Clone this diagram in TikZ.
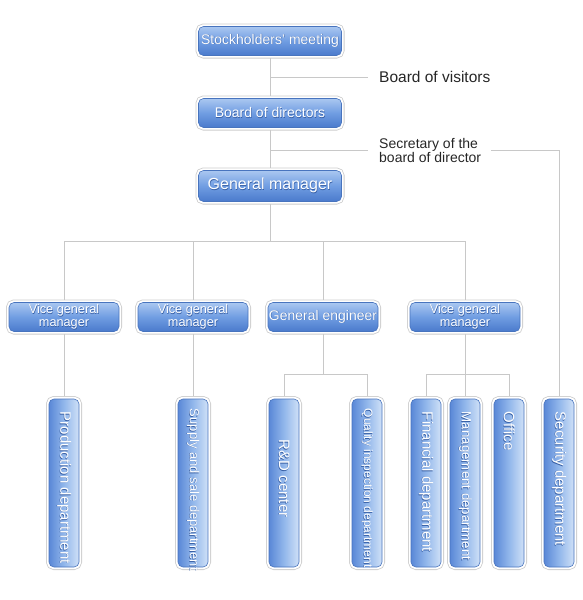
\documentclass[tikz,border=0pt]{standalone}
\usepackage{fontspec}
\setmainfont{Liberation Sans}
\usetikzlibrary{backgrounds}
\definecolor{hTop}{RGB}{170,199,240}
\definecolor{hMid}{RGB}{112,157,226}
\definecolor{hBot}{RGB}{74,122,204}
\definecolor{vLeft}{RGB}{90,136,215}
\definecolor{vMid}{RGB}{146,183,235}
\definecolor{vRight}{RGB}{208,225,247}
\definecolor{bOut}{RGB}{72,116,190}
\definecolor{shadowC}{RGB}{55,95,165}
\definecolor{lineGray}{RGB}{200,200,200}
\newcommand\shd[1]{\leavevmode\rlap{\kern0.45pt\raisebox{-0.5pt}{\textcolor{shadowC}{#1}}}#1}
\begin{document}
\begin{tikzpicture}[x=1pt,y=-1pt,
  conn/.style={draw=lineGray, line width=0.9pt},
  boxbase/.style={rounded corners=5pt, draw=bOut, line width=0.6pt,
    preaction={draw=black!20, line width=6pt},
    preaction={draw=white, line width=4.4pt},
    text=white, inner sep=0pt, align=center},
  hbox/.style={boxbase, top color=hTop, bottom color=hBot, middle color=hMid,
    minimum width=143pt, minimum height=29pt},
  mbox/.style={boxbase, top color=hTop, bottom color=hBot, middle color=hMid,
    minimum width=110pt, minimum height=29pt},
  vbox/.style={boxbase, left color=vLeft, right color=vRight, middle color=vMid,
    minimum width=30pt, minimum height=168pt},
  vtext/.style={rotate=-90, anchor=west, inner sep=0pt, text=white,
    font=\fontsize{15}{15}\selectfont},
  plain/.style={anchor=west, inner sep=0pt, text=black!85},
]
\useasboundingbox (0,0) rectangle (582,600);

% top chain
\node[hbox, font=\fontsize{14}{16}\selectfont] (sm) at (270,41) {\shd{Stockholders' meeting}};
\node[hbox, font=\fontsize{14}{16}\selectfont] (bd) at (270,113) {\shd{Board of directors}};
\node[hbox, font=\fontsize{16}{18}\selectfont, minimum height=31pt] (gm) at (270,186) {\shd{General manager}};

\node[plain, font=\fontsize{15.5}{18}\selectfont] (bov) at (379,77) {Board of visitors};
\node[plain, align=left, font=\fontsize{14}{14}\selectfont] (secb) at (379,150) {Secretary of the\\board of director};

% second row
\node[mbox, font=\fontsize{12.7}{13}\selectfont] (vgm1) at (64,317) {\shd{Vice general}\\\shd{manager}};
\node[mbox, font=\fontsize{12.7}{13}\selectfont] (vgm2) at (193,317) {\shd{Vice general}\\\shd{manager}};
\node[mbox, font=\fontsize{14}{16}\selectfont] (ge) at (323,317) {\shd{General engineer}};
\node[mbox, font=\fontsize{12.7}{13}\selectfont] (vgm4) at (465,317) {\shd{Vice general}\\\shd{manager}};

% departments
\node[vbox] (prod) at (64,483) {};
\node[vbox] (sup) at (193,483) {};
\node[vbox] (rd) at (284,483) {};
\node[vbox] (qual) at (367,483) {};
\node[vbox] (fin) at (426,483) {};
\node[vbox] (mgmt) at (465,483) {};
\node[vbox] (off) at (509,483) {};
\node[vbox] (sec) at (559,483) {};

\node[vtext] (prodT) at ([yshift=-13pt]prod.north) {\shd{Production department}};
\node[vtext, font=\fontsize{13}{13}\selectfont] (supT) at ([yshift=-10pt]sup.north) {\shd{Supply and sale department}};
\node[vtext] (rdT) at ([yshift=-41pt]rd.north) {\shd{R\&D center}};
\node[vtext, font=\fontsize{12}{12}\selectfont] (qualT) at ([yshift=-10pt]qual.north) {\shd{Quality inspection department}};
\node[vtext] (finT) at ([yshift=-13pt]fin.north) {\shd{Financial department}};
\node[vtext, font=\fontsize{13.3}{13.3}\selectfont] (mgmtT) at ([yshift=-13pt]mgmt.north) {\shd{Management department}};
\node[vtext] (offT) at ([yshift=-13pt]off.north) {\shd{Office}};
\node[vtext] (secT) at ([yshift=-13pt]sec.north) {\shd{Security department}};

% connectors
\begin{scope}[on background layer]
\draw[conn] (sm.south) -- (bd.north);
\draw[conn] (bd.south) -- (gm.north);
\coordinate (j1) at (270,77);
\draw[conn] (j1) -- ([xshift=-11pt]bov.west);
\coordinate (j2) at (270,150);
\draw[conn] (j2) -- ([xshift=-11pt]secb.west);
\draw[conn] ([xshift=10pt]secb.east) -| (sec.north);

\coordinate (bus) at (270,241);
\draw[conn] (gm.south) -- (bus);
\draw[conn] (vgm1.north) -- (vgm1.north |- bus) -- (vgm4.north |- bus) -- (vgm4.north);
\draw[conn] (vgm2.north) -- (vgm2.north |- bus);
\draw[conn] (ge.north) -- (ge.north |- bus);

\draw[conn] (vgm1.south) -- (prod.north);
\draw[conn] (vgm2.south) -- (sup.north);
\coordinate (j3) at (323,374);
\draw[conn] (ge.south) -- (j3);
\draw[conn] (rd.north) -- (rd.north |- j3) -- (qual.north |- j3) -- (qual.north);
\coordinate (j4) at (465,374);
\draw[conn] (vgm4.south) -- (mgmt.north);
\draw[conn] (fin.north) -- (fin.north |- j4) -- (off.north |- j4) -- (off.north);
\end{scope}
\end{tikzpicture}
\end{document}
